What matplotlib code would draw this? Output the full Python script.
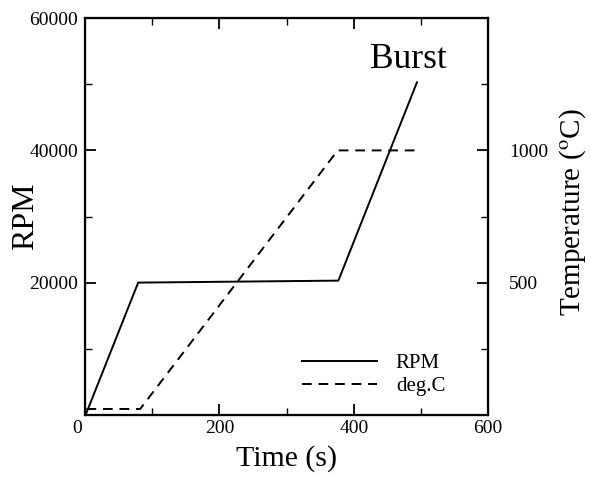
import matplotlib
matplotlib.use("Agg")
import matplotlib.pyplot as plt
from matplotlib.ticker import MultipleLocator, FixedLocator
from matplotlib.transforms import ScaledTranslation

plt.rcParams['font.family'] = ['Liberation Serif', 'DejaVu Serif']
plt.rcParams['mathtext.fontset'] = 'stix'

# Data
rpm_time = [2, 79, 377, 494]
rpm_vals = [300, 20000, 20300, 50300]
temp_time = [2, 82, 376, 495]
temp_vals = [22, 22, 1000, 1000]

fig = plt.figure(figsize=(5.91, 4.79), dpi=100)
ax = fig.add_axes([0.144, 0.134, 0.682, 0.828])

l1, = ax.plot(rpm_time, rpm_vals, color='black', lw=1.4, label='RPM')
ax.set_xlim(0, 600)
ax.set_ylim(0, 60000)
ax.xaxis.set_major_locator(FixedLocator([0, 200, 400, 600]))
ax.xaxis.set_minor_locator(MultipleLocator(100))
ax.yaxis.set_major_locator(FixedLocator([20000, 40000, 60000]))
ax.yaxis.set_minor_locator(FixedLocator([10000, 30000, 50000]))
ax.tick_params(which='major', direction='in', length=8, width=1.3, labelsize=14, top=True)
ax.tick_params(axis='y', which='major', pad=5)
ax.tick_params(which='minor', direction='in', length=5, width=1.0, top=True)
ax.set_xlabel('Time (s)', fontsize=21.5, labelpad=6)
ax.set_ylabel('RPM', fontsize=23, va='center')
ax.yaxis.set_label_coords(-0.148, 0.5)
for s in ax.spines.values():
    s.set_linewidth(1.6)

ax2 = ax.twinx()
l2, = ax2.plot(temp_time, temp_vals, color='black', lw=1.4, ls=(0, (5, 3.5)), label='deg.C')
ax2.set_ylim(0, 1500)
ax2.yaxis.set_major_locator(FixedLocator([500, 1000]))
ax2.yaxis.set_minor_locator(FixedLocator([250, 750, 1250]))
ax2.tick_params(which='major', direction='in', length=8, width=1.3, labelsize=14, pad=15)
ax2.tick_params(which='minor', direction='in', length=5, width=1.0)
ax2.set_ylabel(r'Temperature ($^{\mathrm{o}}$C)', fontsize=21, va='center', rotation=90)
ax2.yaxis.set_label_coords(1.21, 0.51)

ax.text(481, 53800, 'Burst', fontsize=25.5, ha='center', va='center')

ax.legend([l1, l2], ['RPM', 'deg.C'], loc='lower right', frameon=False, fontsize=15,
          handlelength=3.6, bbox_to_anchor=(0.94, 0.0), labelspacing=0.15, handletextpad=0.9)

fig.canvas.draw()
xl = ax.get_xticklabels()
xl[0].set_transform(xl[0].get_transform() + ScaledTranslation(-0.08, 0, fig.dpi_scale_trans))

fig.savefig('out.png', dpi=100)
